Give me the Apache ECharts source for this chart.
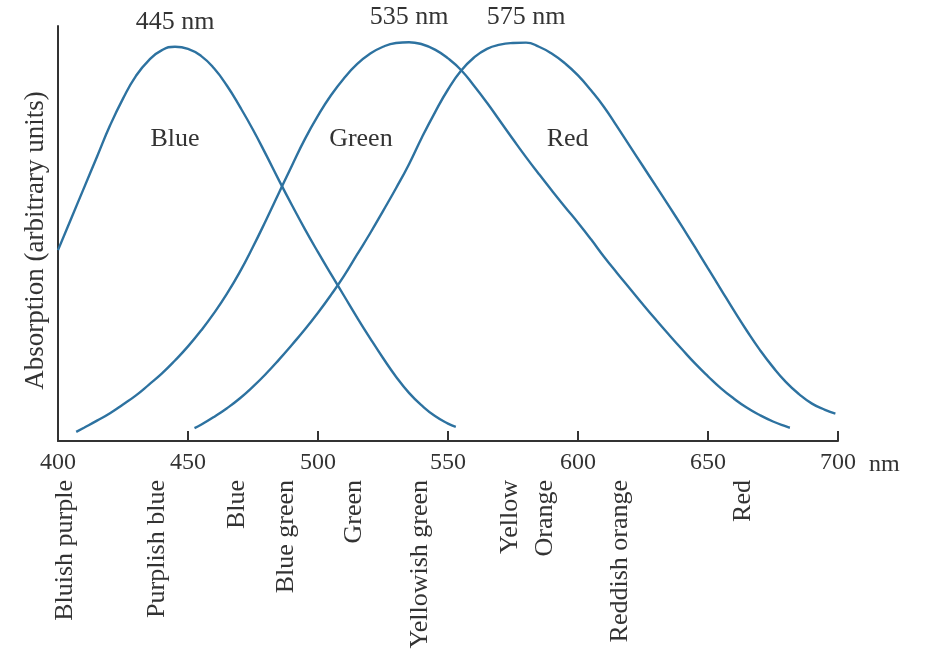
<!DOCTYPE html>
<html>
<head>
<meta charset="utf-8">
<script src="https://cdn.jsdelivr.net/npm/echarts@6/dist/echarts.min.js"></script>
<style>html,body{margin:0;padding:0;background:#fff}#c{width:925px;height:653px}</style>
</head>
<body>
<div id="c"></div>
<script>
// Wavelength (nm) tick labels
const xTicks = [400, 450, 500, 550, 600, 650, 700];

// Absorption curves: [wavelength nm, absorption (arbitrary units)]
const blueCurve = [[400,46],[405,53.5],[410,61],[415,68.5],[420,76],[425,82.5],[430,88],[435,91.8],[440,94.2],[445,95],[450,94.5],[455,92.8],[460,89.8],[465,85.6],[470,80.5],[475,75],[480,69],[485,62.8],[490,56.8],[495,51],[500,45.5],[505,40.2],[510,35],[515,29.8],[520,24.8],[525,20],[530,15.5],[535,11.6],[540,8.5],[545,6],[550,4.2],[553,3.4]];
const greenCurve = [[407,2.2],[410,3.2],[415,4.9],[420,6.7],[425,8.8],[430,11],[435,13.6],[440,16.3],[445,19.4],[450,22.8],[455,26.6],[460,30.8],[465,35.5],[470,40.8],[475,46.8],[480,53.2],[485,59.8],[490,66.4],[495,72.8],[500,78.4],[505,83.3],[510,87.4],[515,90.8],[520,93.3],[525,95],[530,95.9],[535,96.1],[540,95.6],[545,94.3],[550,92.2],[555,89.4],[560,85.6],[565,81.5],[570,77.1],[575,72.7],[580,68.4],[585,64.3],[590,60.3],[595,56.4],[600,52.6],[605,48.6],[610,44.4],[615,40.5],[620,36.7],[625,32.9],[630,29.2],[635,25.6],[640,22.1],[645,18.7],[650,15.6],[655,12.7],[660,10.2],[665,8],[670,6.2],[675,4.7],[680,3.5],[681.5,3.2]];
const redCurve = [[452.5,3.1],[455,3.9],[460,5.8],[465,7.9],[470,10.3],[475,13.1],[480,16.2],[485,19.6],[490,23.2],[495,26.9],[500,30.9],[505,35.2],[510,39.8],[515,44.9],[520,50],[525,55.4],[530,60.9],[535,66.7],[540,73.2],[545,79.2],[550,84.7],[555,89.2],[560,92.4],[565,94.5],[570,95.5],[575,95.9],[580,96],[585,95],[590,93.3],[595,91],[600,88.1],[605,84.5],[610,80.5],[615,75.8],[620,71],[625,66.2],[630,61.4],[635,56.6],[640,51.7],[645,46.7],[650,41.6],[655,36.5],[660,31.4],[665,26.5],[670,21.9],[675,17.8],[680,14.2],[685,11.3],[690,9],[695,7.5],[699,6.6]];

// Curve names, peak wavelengths and label anchor (wavelength, absorption)
const curveNames = ['Blue', 'Green', 'Red'];
const peakNm = [445, 535, 575];
const nameAnchorNm = [445, 516.5, 596];
const nameAnchorY = 72.8;

// Spectral color names along the wavelength axis
const bandNames = ['Bluish purple', 'Purplish blue', 'Blue', 'Blue green', 'Green', 'Yellowish green', 'Yellow', 'Orange', 'Reddish orange', 'Red'];
const bandNm = [402.7, 438, 469, 487.8, 513.9, 539.2, 574, 587.5, 616.3, 663.4];

const FONT = '"Liberation Serif", "DejaVu Serif", serif';
const TXT = '#333';
const LINE = '#2d72a0';

const curves = [blueCurve, greenCurve, redCurve];

const series = curves.map((d, i) => ({
  type: 'line',
  data: d,
  smooth: 0.5,
  showSymbol: false,
  lineStyle: { color: LINE, width: 2.4 },
  silent: true,
  markPoint: {
    symbol: 'circle', symbolSize: 0,
    silent: true,
    data: [
      { type: 'max', label: { show: true, position: 'top', distance: 12, formatter: peakNm[i] + ' nm', fontFamily: FONT, fontSize: 26, color: TXT } },
      { coord: [nameAnchorNm[i], nameAnchorY], label: { show: true, position: 'inside', formatter: curveNames[i], fontFamily: FONT, fontSize: 26, color: TXT } }
    ]
  }
}));

const chart = echarts.init(document.getElementById('c'), null, { renderer: 'canvas' });
chart.setOption({
  animation: false,
  backgroundColor: '#fff',
  grid: { left: 58, right: 87, top: 26, bottom: 212 },
  xAxis: [
    {
      type: 'value', min: 400, max: 700, interval: 50,
      axisLine: { show: true, lineStyle: { color: '#333', width: 2 } },
      axisTick: { show: true, inside: true, length: 10, lineStyle: { color: '#333', width: 2 } },
      splitLine: { show: false },
      axisLabel: { margin: 10, fontFamily: FONT, fontSize: 24, color: TXT, showMinLabel: true, showMaxLabel: true,
        customValues: xTicks },
      name: 'nm', nameLocation: 'end', nameGap: 31,
      nameTextStyle: { fontFamily: FONT, fontSize: 24, color: TXT, align: 'left', verticalAlign: 'top', padding: [12, 0, 0, 0] }
    },
    {
      type: 'value', min: 400, max: 700, position: 'bottom', offset: 0,
      axisLine: { show: false }, axisTick: { show: false }, splitLine: { show: false },
      axisLabel: {
        rotate: 90, margin: 39, fontFamily: FONT, fontSize: 26, color: TXT,
        customValues: bandNm,
        formatter: v => { const k = bandNm.indexOf(v); return k >= 0 ? bandNames[k] : ''; }
      }
    }
  ],
  yAxis: {
    type: 'value', min: 0, max: 100,
    axisLine: { show: true, lineStyle: { color: '#333', width: 2 } },
    axisTick: { show: false }, axisLabel: { show: false }, splitLine: { show: false },
    name: 'Absorption (arbitrary units)', nameLocation: 'middle', nameGap: 9, nameRotate: 90,
    nameTextStyle: { fontFamily: FONT, fontSize: 27, color: TXT, padding: [0, 14, 0, 0] }
  },
  series: series
});
</script>
</body>
</html>
